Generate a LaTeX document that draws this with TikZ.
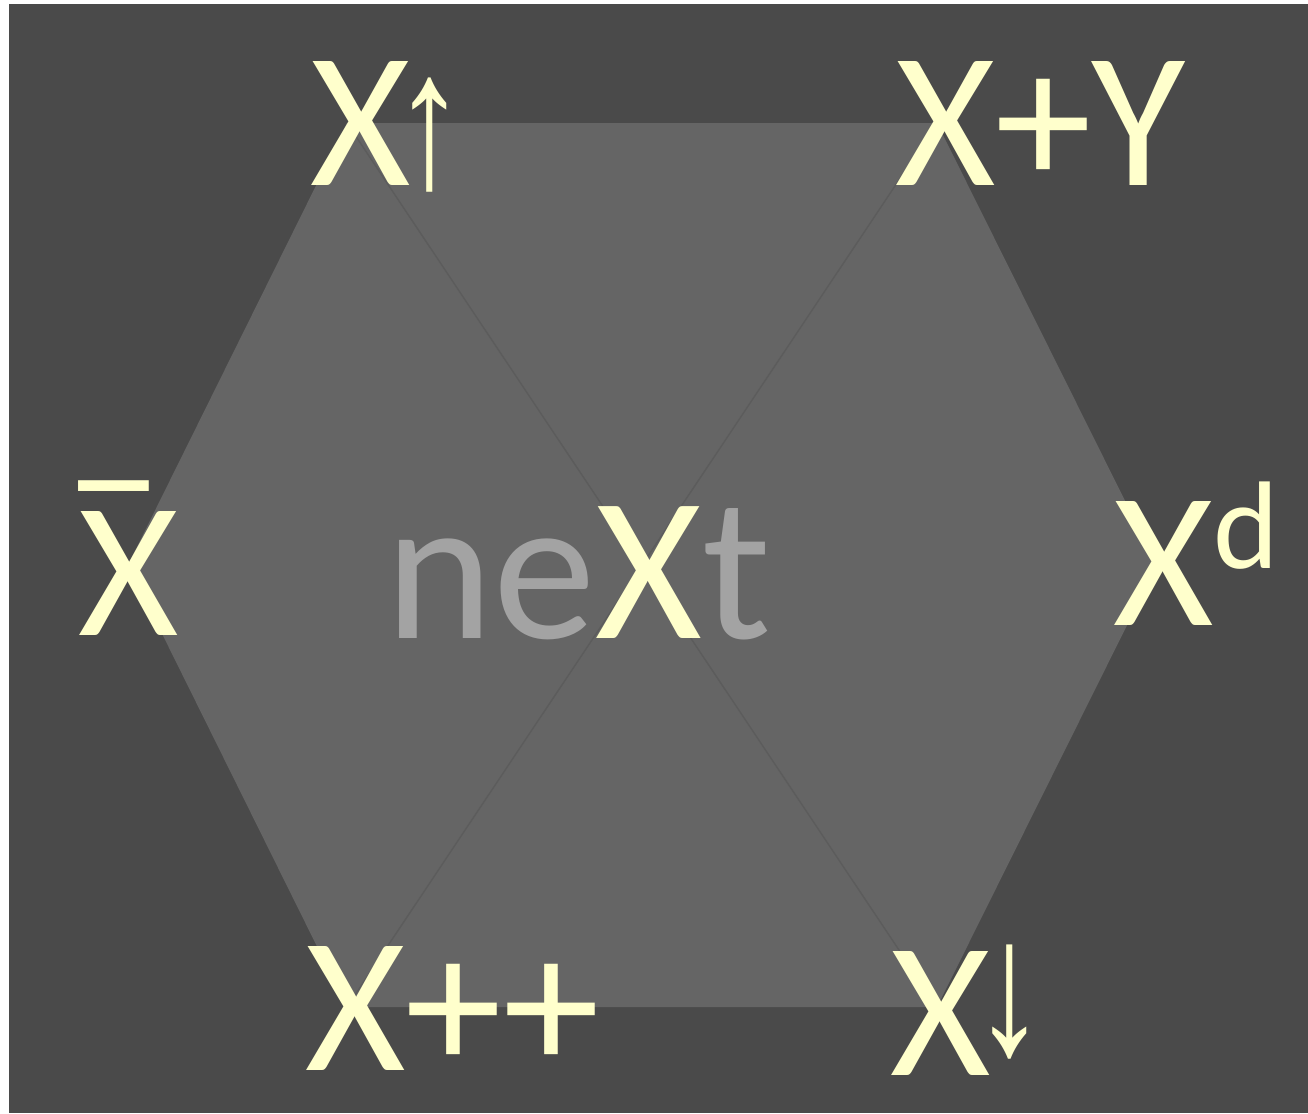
\documentclass[tikz,border=0pt]{standalone}
\usepackage{fontspec}
\setmainfont{Carlito}
\newfontfamily\setas{Liberation Sans}
\usepackage{xcolor}
\usepackage{tikz}
\definecolor{fundo}{HTML}{4A4A4A}
\definecolor{hexa}{HTML}{656565}
\definecolor{amarelo}{HTML}{FFFFCC}
\definecolor{cinza}{HTML}{A3A3A3}
\tikzset{
  rotulo/.style={anchor=base west, inner sep=0pt, text=amarelo, font=\fontsize{110}{110}\selectfont},
  diagonal/.style={draw=black!64, line width=0.8pt},
}

\begin{document}
\begin{tikzpicture}[x=0.02cm, y=-0.02cm]
  \useasboundingbox (0,0) rectangle (1308,1113);
  \fill[fundo] (9,4) rectangle (1308,1113);
  % vertices do hexagono
  \coordinate (a) at (347,123);
  \coordinate (b) at (937,123);
  \coordinate (c) at (1157,565);
  \coordinate (d) at (937,1007);
  \coordinate (e) at (347,1007);
  \coordinate (f) at (128,565);
  \fill[hexa] (a) -- (b) -- (c) -- (d) -- (e) -- (f) -- cycle;
  \draw[diagonal] (a) -- (d);
  \draw[diagonal] (b) -- (e);
  % rotulos
  \node[rotulo] (xup) at (310,185) {X\kern-10pt\raisebox{-1pt}{\setas\scalebox{0.75}[1]{↑}}};
  \node[rotulo] (xmais) at (895,185) {X+Y};
  \node[rotulo] (xbarra) at (78,635) {\rlap{\kern-9pt\raisebox{18pt}{\scalebox{1.35}[1]{¯}}}X};
  \node[rotulo] (xdual) at (1113,625) {X\raisebox{32pt}{\fontsize{71}{71}\selectfont d}};
  \node[rotulo] (xinc) at (305,1070) {X++};
  \node[rotulo] (xdown) at (890,1075) {X\kern-10pt\raisebox{12pt}{\setas\scalebox{0.75}[1]{↓}}};
  \node[rotulo, font=\fontsize{117}{117}\selectfont] (next) at (385,638)
    {\textcolor{cinza}{ne}X\textcolor{cinza}{t}};
\end{tikzpicture}
\end{document}
